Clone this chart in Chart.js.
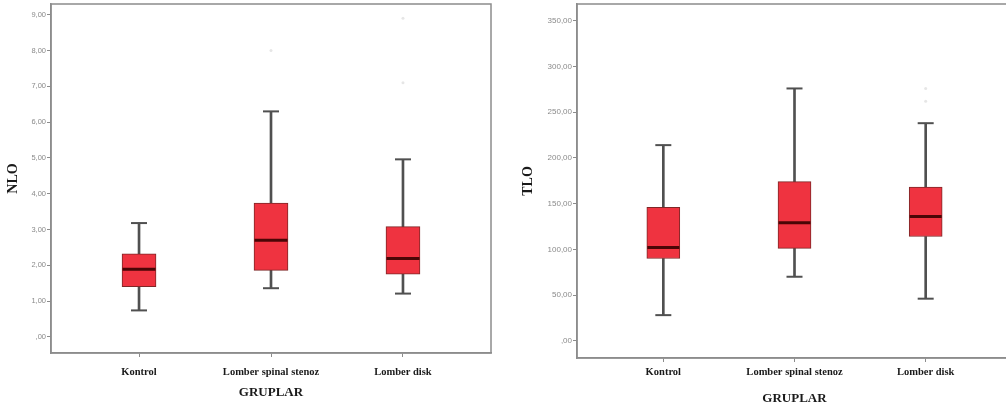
<!DOCTYPE html>
<html>
<head>
<meta charset="utf-8">
<script src="https://cdn.jsdelivr.net/npm/chart.js@4/dist/chart.umd.min.js"></script>
<style>
  html, body { margin: 0; padding: 0; background: #fff; overflow: hidden; width: 1006px; height: 407px; }
  canvas { position: absolute; top: 0; }
  #c1 { left: 0; }
  #c2 { left: 500px; }
</style>
</head>
<body>
<canvas id="c1" width="500" height="407"></canvas>
<canvas id="c2" width="520" height="407"></canvas>
<script>
// ---- data ----
const categories = ['Kontrol', 'Lomber spinal stenoz', 'Lomber disk'];

const nloMin = [0.74, 1.36, 1.21];
const nloQ1  = [1.40, 1.86, 1.75];
const nloMed = [1.89, 2.70, 2.19];
const nloQ3  = [2.32, 3.74, 3.08];
const nloMax = [3.18, 6.30, 4.96];
const nloOutCat = [1, 2, 2];
const nloOutVal = [8.0, 8.9, 7.1];
const nloTicks = [0, 1, 2, 3, 4, 5, 6, 7, 8, 9];

const tloMin = [28, 70, 46];
const tloQ1  = [90, 101, 114];
const tloMed = [102, 129, 136];
const tloQ3  = [146, 174, 168];
const tloMax = [214, 276, 238];
const tloOutCat = [2, 2];
const tloOutVal = [276, 262];
const tloTicks = [0, 50, 100, 150, 200, 250, 300, 350];

// ---- styling ----
const BOX_FILL = '#ef3340';
const BOX_EDGE = '#7e2727';
const MED_COL = '#4a0606';
const WHISK = '#505050';
const FRAME = '#8c8c8c';
const SERIF = "'Liberation Serif', 'Times New Roman', serif";
const SANS = "'Liberation Sans', Arial, sans-serif";

const framePlugin = {
  id: 'frame',
  afterDraw(chart) {
    const a = chart.chartArea, ctx = chart.ctx;
    ctx.save();
    ctx.strokeStyle = FRAME;
    ctx.lineWidth = 1.5;
    ctx.strokeRect(a.left, a.top, a.right - a.left, a.bottom - a.top);
    ctx.restore();
  }
};

function fmt(v) {
  return v === 0 ? ',00' : v.toFixed(2).replace('.', ',');
}

function makeChart(id, cfg) {
  const idx = categories.map((_, i) => i);
  const pts = (arr) => arr.map((v, i) => ({ x: i, y: v }));
  const rng = (a, b) => a.map((v, i) => ({ x: i, y: [v, b[i]] }));
  return new Chart(document.getElementById(id), {
    type: 'bar',
    data: {
      datasets: [
        { type: 'bar', data: rng(cfg.min, cfg.q1), backgroundColor: WHISK, barThickness: 2, grouped: false, order: 5 },
        { type: 'bar', data: rng(cfg.q3, cfg.max), backgroundColor: WHISK, barThickness: 2, grouped: false, order: 5 },
        { type: 'bar', data: rng(cfg.q1, cfg.q3), backgroundColor: BOX_FILL, borderColor: BOX_EDGE, borderWidth: 1,
          borderSkipped: false, barThickness: cfg.boxW, grouped: false, order: 3 },
        { type: 'scatter', data: pts(cfg.med), pointStyle: 'line', pointRadius: cfg.boxW / 2 - 0.5,
          borderColor: MED_COL, borderWidth: 3, order: 1 },
        { type: 'scatter', data: pts(cfg.min).concat(pts(cfg.max)), pointStyle: 'line', pointRadius: 8,
          borderColor: WHISK, borderWidth: 2, order: 1 },
        { type: 'scatter', data: cfg.outCat.map((c, i) => ({ x: c, y: cfg.outVal[i] })), pointStyle: 'circle',
          pointRadius: 1.5, backgroundColor: '#e6e6e6', borderColor: '#e6e6e6', borderWidth: 0, order: 1 }
      ]
    },
    options: {
      responsive: false,
      animation: false,
      events: [],
      layout: { autoPadding: false, padding: { top: 4, left: 0, right: cfg.padRight, bottom: 0 } },
      plugins: { legend: { display: false }, tooltip: { enabled: false } },
      scales: {
        x: {
          type: 'linear',
          offset: false,
          min: cfg.xMin, max: cfg.xMax,
          afterBuildTicks: (s) => { s.ticks = idx.map(v => ({ value: v })); },
          afterFit: (s) => { s.height = cfg.xH; s.paddingLeft = 0; s.paddingRight = 0; },
          grid: { display: true, offset: false, drawOnChartArea: false, drawTicks: true, tickLength: 4, color: FRAME },
          border: { display: true, color: FRAME, width: 1.5 },
          ticks: {
            maxRotation: 0, autoSkip: false, padding: cfg.xPad,
            color: '#1a1a1a',
            font: { family: SERIF, size: 10.5, weight: 'bold' },
            callback: (v) => categories[v]
          },
          title: {
            display: true, text: 'GRUPLAR', color: '#1a1a1a',
            font: { family: SERIF, size: 13, weight: 'bold' },
            padding: { top: 0, bottom: cfg.xTitlePad }
          }
        },
        y: {
          min: cfg.yMin, max: cfg.yMax,
          afterBuildTicks: (s) => { s.ticks = cfg.ticks.map(v => ({ value: v })); },
          afterFit: (s) => { s.width = cfg.yW; s.paddingTop = 0; s.paddingBottom = 0; },
          grid: { display: true, drawOnChartArea: false, drawTicks: true, tickLength: 4, color: FRAME },
          border: { display: true, color: FRAME, width: 1.5 },
          ticks: {
            padding: 1, color: '#8a8a8a',
            font: { family: SANS, size: cfg.tickSize },
            callback: (v) => fmt(v)
          },
          title: {
            display: true, text: cfg.yTitle, color: '#1a1a1a',
            font: { family: SERIF, size: 14, weight: 'bold' },
            padding: { top: cfg.yTitlePad, bottom: 0 }
          }
        }
      }
    },
    plugins: [framePlugin]
  });
}

makeChart('c1', {
  min: nloMin, q1: nloQ1, med: nloMed, q3: nloQ3, max: nloMax,
  outCat: nloOutCat, outVal: nloOutVal, ticks: nloTicks,
  yMin: -0.45, yMax: 9.30, xMin: -0.667, xMax: 2.667,
  boxW: 34, padRight: 9, xH: 54, yW: 51, xPad: 9, xTitlePad: 7, yTitlePad: 4.5,
  tickSize: 7.5, yTitle: 'NLO'
});

makeChart('c2', {
  min: tloMin, q1: tloQ1, med: tloMed, q3: tloQ3, max: tloMax,
  outCat: tloOutCat, outVal: tloOutVal, ticks: tloTicks,
  yMin: -18.9, yMax: 368.4, xMin: -0.658, xMax: 2.658,
  boxW: 33, padRight: 8, xH: 49, yW: 77, xPad: 4, xTitlePad: 1, yTitlePad: 20,
  tickSize: 8, yTitle: 'TLO'
});
</script>
</body>
</html>
